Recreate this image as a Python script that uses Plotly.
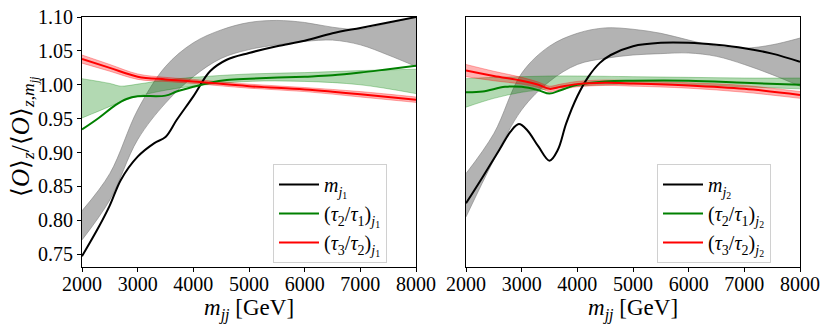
import plotly.graph_objects as go

# ---------------- data: left panel (leading jet j1) ----------------
x_m1 = [2000, 2300, 2500, 2700, 3000, 3300, 3500, 3700, 4000, 4300, 4600, 5000, 5500, 6000, 6500, 7000, 7500, 8000]
m1 = [0.747, 0.790, 0.822, 0.860, 0.894, 0.914, 0.923, 0.948, 0.983, 1.020, 1.037, 1.047, 1.057, 1.065, 1.076, 1.084, 1.092, 1.100]

x_band = [2000, 2500, 3000, 3500, 4000, 4500, 5000, 5500, 6000, 6500, 7000, 7500, 8000]
m1_hi = [0.814, 0.869, 0.963, 1.027, 1.062, 1.081, 1.092, 1.095, 1.092, 1.085, 1.082, 1.091, 1.100]
m1_lo = [0.771, 0.830, 0.919, 0.973, 1.012, 1.039, 1.052, 1.059, 1.064, 1.066, 1.059, 1.044, 1.027]

x_t21 = [2000, 2300, 2600, 2800, 3000, 3500, 3700, 4000, 4300, 4600, 5000, 6000, 6500, 7000, 7500, 8000]
t21_1 = [0.934, 0.951, 0.970, 0.979, 0.983, 0.984, 0.990, 0.997, 1.003, 1.007, 1.009, 1.012, 1.014, 1.018, 1.023, 1.028]
x_t21b = [2000, 2500, 2700, 3000, 3500, 4000, 5000, 6000, 7000, 8000]
t21_1_hi = [1.009, 1.002, 0.998, 1.001, 1.007, 1.011, 1.016, 1.018, 1.021, 1.023]
t21_1_lo = [0.951, 0.968, 0.975, 0.983, 0.992, 0.998, 1.005, 1.005, 1.000, 0.987]

x_t32 = [2000, 2500, 3000, 3500, 4000, 5000, 6000, 7000, 8000]
t32_1 = [1.038, 1.025, 1.012, 1.008, 1.005, 0.998, 0.993, 0.986, 0.978]
t32_1_hi = [1.044, 1.030, 1.016, 1.011, 1.008, 1.001, 0.996, 0.990, 0.982]
t32_1_lo = [1.032, 1.020, 1.008, 1.005, 1.002, 0.995, 0.990, 0.982, 0.974]

# ---------------- data: right panel (subleading jet j2) ----------------
x_m2 = [2000, 2300, 2600, 2800, 2950, 3100, 3300, 3500, 3650, 3800, 4000, 4200, 4400, 4600, 5000, 5500, 6000, 6500, 7000, 7500, 8000]
m2 = [0.825, 0.864, 0.904, 0.931, 0.942, 0.933, 0.909, 0.888, 0.904, 0.943, 0.983, 1.012, 1.032, 1.044, 1.057, 1.062, 1.062, 1.059, 1.054, 1.046, 1.034]
m2_hi = [0.869, 0.928, 1.017, 1.057, 1.076, 1.084, 1.082, 1.076, 1.066, 1.057, 1.054, 1.059, 1.069]
m2_lo = [0.805, 0.889, 0.963, 1.005, 1.030, 1.039, 1.044, 1.046, 1.047, 1.042, 1.030, 1.015, 0.998]

x_t21r = [2000, 2300, 2700, 3000, 3300, 3500, 3700, 4000, 4500, 5000, 6000, 7000, 8000]
t21_2 = [0.989, 0.990, 0.997, 0.997, 0.992, 0.987, 0.992, 1.000, 1.005, 1.006, 1.006, 1.003, 1.000]
x_t21rb = [2000, 2500, 3000, 3500, 4000, 5000, 6000, 7000, 8000]
t21_2_hi = [1.009, 1.011, 1.012, 1.013, 1.013, 1.012, 1.011, 1.010, 1.010]
t21_2_lo = [0.967, 0.980, 0.989, 0.994, 0.998, 1.001, 1.000, 0.997, 0.994]

x_t32r = [2000, 2500, 3000, 3300, 3500, 3700, 4000, 4500, 5000, 6000, 7000, 8000]
t32_2 = [1.021, 1.013, 1.006, 1.000, 0.994, 0.997, 1.001, 1.003, 1.002, 0.999, 0.994, 0.985]
t32_2_hi = [1.030, 1.020, 1.011, 1.004, 0.998, 1.001, 1.005, 1.007, 1.006, 1.003, 0.999, 0.990]
t32_2_lo = [1.012, 1.006, 1.001, 0.996, 0.990, 0.993, 0.997, 0.999, 0.998, 0.995, 0.989, 0.980]

x_ticks = [2000, 3000, 4000, 5000, 6000, 7000, 8000]
y_ticks = [0.75, 0.80, 0.85, 0.90, 0.95, 1.00, 1.05, 1.10]

FONT = "Liberation Serif, Times New Roman, serif"
GRAY_FILL = "rgba(128,128,128,0.6)"
GREEN_FILL = "rgba(0,128,0,0.3)"
RED_FILL = "rgba(255,0,0,0.3)"

# the page body adds an 8px margin; lay the figure out in page pixels minus that offset
OFF = 8
W, H = 830 - OFF, 332 - OFF
PT, PB = 17, 267          # plot area top / bottom in page pixels


def px(xp):
    return (xp - OFF) / W


def py(yp):
    return (PB - yp) / (PB - PT)


fig = go.Figure()


def band(x, lo, hi, fill, xa, ya):
    fig.add_trace(go.Scatter(x=x, y=lo, mode="lines", line=dict(color=fill, width=1, shape="spline"),
                             showlegend=False, hoverinfo="skip", xaxis=xa, yaxis=ya))
    fig.add_trace(go.Scatter(x=x, y=hi, mode="lines", line=dict(color=fill, width=1, shape="spline"),
                             fill="tonexty", fillcolor=fill, showlegend=False, hoverinfo="skip",
                             xaxis=xa, yaxis=ya))


def line(x, y, color, name, xa, ya, lg):
    fig.add_trace(go.Scatter(x=x, y=y, mode="lines", line=dict(color=color, width=2, shape="spline"),
                             name=name, xaxis=xa, yaxis=ya, legend=lg))


# left
band(x_band, m1_lo, m1_hi, GRAY_FILL, "x", "y")
band(x_t21b, t21_1_lo, t21_1_hi, GREEN_FILL, "x", "y")
band(x_t32, t32_1_lo, t32_1_hi, RED_FILL, "x", "y")
line(x_m1, m1, "black", "<i>m</i><sub><i>j</i><sub>1</sub></sub>", "x", "y", "legend")
line(x_t21, t21_1, "green", "(<i>τ</i><sub>2</sub>/<i>τ</i><sub>1</sub>)<sub><i>j</i><sub>1</sub></sub>", "x", "y", "legend")
line(x_t32, t32_1, "red", "(<i>τ</i><sub>3</sub>/<i>τ</i><sub>2</sub>)<sub><i>j</i><sub>1</sub></sub>", "x", "y", "legend")

# right
band(x_band, m2_lo, m2_hi, GRAY_FILL, "x2", "y2")
band(x_t21rb, t21_2_lo, t21_2_hi, GREEN_FILL, "x2", "y2")
band(x_t32r, t32_2_lo, t32_2_hi, RED_FILL, "x2", "y2")
line(x_m2, m2, "black", "<i>m</i><sub><i>j</i><sub>2</sub></sub>", "x2", "y2", "legend2")
line(x_t21r, t21_2, "green", "(<i>τ</i><sub>2</sub>/<i>τ</i><sub>1</sub>)<sub><i>j</i><sub>2</sub></sub>", "x2", "y2", "legend2")
line(x_t32r, t32_2, "red", "(<i>τ</i><sub>3</sub>/<i>τ</i><sub>2</sub>)<sub><i>j</i><sub>2</sub></sub>", "x2", "y2", "legend2")

axis_common = dict(showline=True, linecolor="black", linewidth=1, mirror=True, ticks="outside",
                   ticklen=4, tickcolor="black", showgrid=False, zeroline=False, automargin=False,
                   ticklabeloverflow="allow",
                   tickfont=dict(family=FONT, size=20, color="black"))

leg_common = dict(xanchor="left", yanchor="top", bgcolor="rgba(255,255,255,0.8)",
                  bordercolor="#d0d0d0", borderwidth=1, traceorder="normal",
                  font=dict(family=FONT, size=20, color="black"), tracegroupgap=0, itemwidth=40)

xtitle_text = "<i>m</i><sub><i>jj</i></sub> [GeV]"
title_font = dict(family=FONT, size=23, color="black")

fig.update_layout(
    width=W, height=H, margin=dict(l=0, r=0, t=PT - OFF, b=H - (PB - OFF)),
    paper_bgcolor="white", plot_bgcolor="white",
    xaxis=dict(domain=[px(82), px(416)], range=[2000, 8000], tickvals=x_ticks, tickformat="d",
               ticklabelstandoff=-5, **axis_common),
    xaxis2=dict(domain=[px(466), px(800)], range=[2000, 8000], tickvals=x_ticks, tickformat="d",
                ticklabelstandoff=-5, anchor="y2", **axis_common),
    yaxis=dict(range=[0.731, 1.1001], tickvals=y_ticks, tickformat=".2f", **axis_common),
    yaxis2=dict(range=[0.731, 1.1001], anchor="x2", tickvals=y_ticks, showticklabels=False,
                **{**axis_common, "ticks": ""}),
    legend=dict(x=px(273), y=py(164), **leg_common),
    legend2=dict(x=px(657), y=py(164), **leg_common),
    annotations=[
        dict(text="⟨<i>O</i>⟩<sub><i>z</i></sub>/⟨<i>O</i>⟩<sub><i>z</i>,<i>m</i><sub><i>jj</i></sub></sub>",
             xref="paper", yref="paper", x=px(24), y=py(137), xanchor="center", yanchor="middle",
             textangle=-90, showarrow=False, font=dict(family=FONT, size=25, color="black")),
        dict(text=xtitle_text, xref="paper", yref="paper", x=px(249), y=py(309),
             xanchor="center", yanchor="middle", showarrow=False, font=title_font),
        dict(text=xtitle_text, xref="paper", yref="paper", x=px(633), y=py(309),
             xanchor="center", yanchor="middle", showarrow=False, font=title_font),
    ],
)

fig.write_html("out.html")
